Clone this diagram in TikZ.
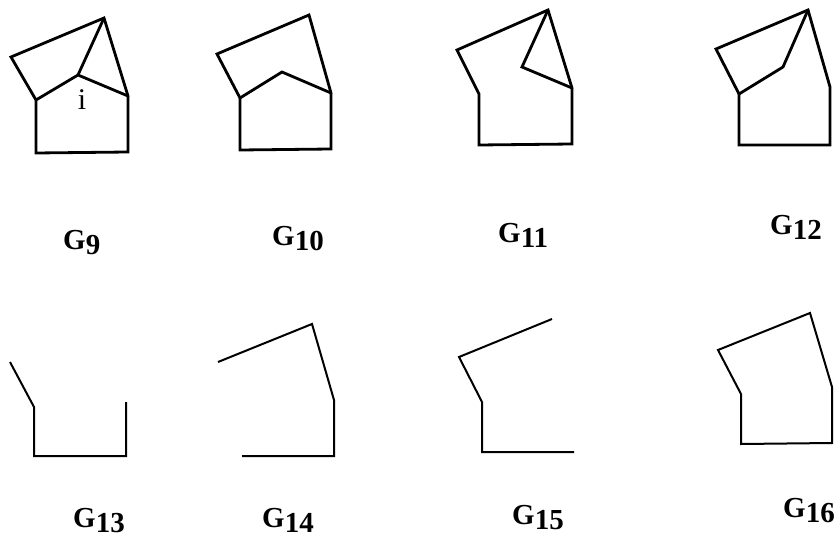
\documentclass[tikz,border=0pt]{standalone}
\usepackage{fontspec}
\setmainfont{Liberation Serif}
\usetikzlibrary{positioning}

\newcommand{\gname}[1]{G\raisebox{-0.2em}{#1}}

\begin{document}
\begin{tikzpicture}[
    x=1pt, y=-1pt,
    edge/.style={line width=2.8pt, line join=miter, line cap=round},
    lowedge/.style={line width=2pt, line join=miter},
    glabel/.style={font=\fontsize{29}{29}\selectfont\bfseries, inner sep=0pt, anchor=base west},
    vlabel/.style={font=\fontsize{30}{30}\selectfont, inner sep=0pt}
]
\useasboundingbox (0,0) rectangle (840,540);

% G9
\coordinate (g9l) at (11,57);  \coordinate (g9t) at (104,18);
\coordinate (g9a) at (36,100); \coordinate (g9i) at (78,75);
\coordinate (g9r) at (128,96); \coordinate (g9b1) at (36,153);
\coordinate (g9b2) at (128,152);
\draw[edge] (g9a) -- (g9l) -- (g9t) -- (g9r) -- (g9b2) -- (g9b1) -- cycle;
\draw[edge] (g9a) -- (g9i) -- (g9r);
\draw[edge] (g9t) -- (g9i);
\node[vlabel] (g9v) at (82,100) {i};

% G10
\coordinate (g10l) at (217,54);  \coordinate (g10t) at (309,15);
\coordinate (g10a) at (240,98);  \coordinate (g10i) at (282,72);
\coordinate (g10r) at (331,93);  \coordinate (g10b1) at (240,150);
\coordinate (g10b2) at (331,149);
\draw[edge] (g10a) -- (g10l) -- (g10t) -- (g10r) -- (g10b2) -- (g10b1) -- cycle;
\draw[edge] (g10a) -- (g10i) -- (g10r);

% G11
\coordinate (g11l) at (457,50);  \coordinate (g11t) at (548,10);
\coordinate (g11a) at (479,94);  \coordinate (g11i) at (522,67);
\coordinate (g11r) at (572,88);  \coordinate (g11b1) at (479,145);
\coordinate (g11b2) at (572,144);
\draw[edge] (g11a) -- (g11l) -- (g11t) -- (g11r) -- (g11b2) -- (g11b1) -- cycle;
\draw[edge] (g11t) -- (g11i) -- (g11r);

% G12
\coordinate (g12l) at (716,49);  \coordinate (g12t) at (808,10);
\coordinate (g12a) at (739,94);  \coordinate (g12i) at (783,67);
\coordinate (g12r) at (830,87);  \coordinate (g12b1) at (739,145);
\coordinate (g12b2) at (830,145);
\draw[edge] (g12a) -- (g12l) -- (g12t) -- (g12r) -- (g12b2) -- (g12b1) -- cycle;
\draw[edge] (g12a) -- (g12i) -- (g12t);

% G13
\coordinate (g13l) at (10,362);  \coordinate (g13a) at (34,407);
\coordinate (g13b1) at (34,456); \coordinate (g13b2) at (126,456);
\coordinate (g13r) at (126,402);
\draw[lowedge] (g13l) -- (g13a) -- (g13b1) -- (g13b2) -- (g13r);

% G14
\coordinate (g14l) at (218,362); \coordinate (g14t) at (312,324);
\coordinate (g14r) at (334,400); \coordinate (g14b2) at (334,456);
\coordinate (g14b1) at (242,456);
\draw[lowedge] (g14l) -- (g14t) -- (g14r) -- (g14b2) -- (g14b1);

% G15
\coordinate (g15t) at (552,319); \coordinate (g15l) at (459,357);
\coordinate (g15a) at (482,402); \coordinate (g15b1) at (482,452);
\coordinate (g15b2) at (574,452);
\draw[lowedge] (g15t) -- (g15l) -- (g15a) -- (g15b1) -- (g15b2);

% G16
\coordinate (g16l) at (718,350); \coordinate (g16t) at (810,313);
\coordinate (g16a) at (741,394); \coordinate (g16r) at (832,387);
\coordinate (g16b1) at (741,444); \coordinate (g16b2) at (832,443);
\draw[lowedge] (g16a) -- (g16l) -- (g16t) -- (g16r) -- (g16b2) -- (g16b1) -- cycle;

% labels
\node[glabel] (lab9)  at (63,249)  {\gname{9}};
\node[glabel] (lab10) at (272,245) {\gname{10}};
\node[glabel] (lab11) at (498,242) {\gname{11}};
\node[glabel] (lab12) at (770,234) {\gname{12}};
\node[glabel] (lab13) at (73,527)  {\gname{13}};
\node[glabel] (lab14) at (262,527) {\gname{14}};
\node[glabel] (lab15) at (512,524) {\gname{15}};
\node[glabel] (lab16) at (783,517) {\gname{16}};
\end{tikzpicture}
\end{document}
